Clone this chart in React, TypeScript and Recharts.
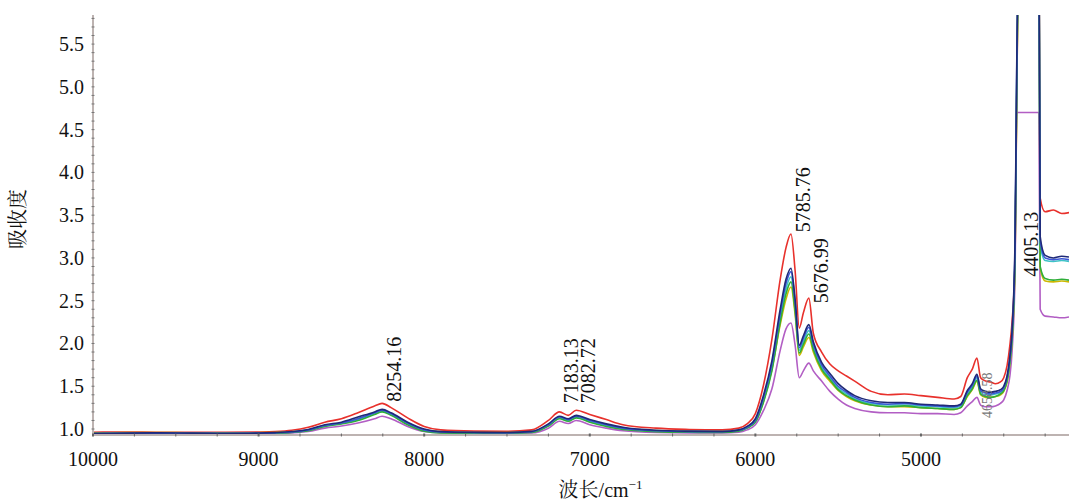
import React from 'react';
import { LineChart, Line, XAxis, YAxis, ReferenceDot } from 'recharts';

// wavenumber grid (cm-1), descending
const wavenumbers = [
  10000, 9800, 9600, 9400, 9200, 9000, 8900, 8800, 8700, 8600,
  8500, 8400, 8300, 8254, 8200, 8100, 8000, 7900, 7700, 7500,
  7350, 7250, 7183, 7130, 7082, 7000, 6900, 6800, 6600, 6400,
  6200, 6100, 6050, 6000, 5950, 5900, 5850, 5815, 5785, 5760,
  5735, 5710, 5677, 5650, 5600, 5550, 5500, 5450, 5400, 5300,
  5200, 5100, 5000, 4900, 4800, 4760, 4720, 4690, 4662, 4640,
  4610, 4580, 4550, 4520, 4500, 4480, 4463, 4450, 4432, 4422,
  4405, 4350, 4300, 4288, 4280, 4250, 4200, 4150, 4106,
];

const seriesRed = [
  0.962, 0.965, 0.962, 0.963, 0.962, 0.965, 0.97, 0.985, 1.02, 1.08,
  1.12, 1.19, 1.27, 1.3, 1.25, 1.13, 1.03, 0.99, 0.975, 0.972,
  0.99, 1.1, 1.2, 1.16, 1.22, 1.17, 1.11, 1.05, 1.01, 0.995,
  0.99, 1.01, 1.06, 1.18, 1.52, 2.05, 2.75, 3.12, 3.28, 2.85,
  2.18, 2.36, 2.53, 2.12, 1.9, 1.76, 1.68, 1.62, 1.56, 1.44,
  1.4, 1.41, 1.39, 1.37, 1.35, 1.38, 1.6, 1.7, 1.83, 1.6,
  1.56, 1.55, 1.53, 1.55, 1.6, 1.74, 1.98, 2.25, 2.95, 4.8,
  7, 7, 7, 7, 3.7, 3.54, 3.56, 3.52, 3.53,
];

const seriesNavy = [
  0.95, 0.952, 0.955, 0.952, 0.95, 0.952, 0.958, 0.97, 0.995, 1.05,
  1.08, 1.14, 1.2, 1.23, 1.19, 1.08, 1.0, 0.97, 0.962, 0.96,
  0.972, 1.06, 1.15, 1.12, 1.16, 1.11, 1.06, 1.02, 0.985, 0.975,
  0.972, 0.99, 1.03, 1.12, 1.4, 1.8, 2.4, 2.75, 2.88, 2.52,
  1.98, 2.09, 2.22, 2.02, 1.78, 1.65, 1.53, 1.45, 1.39, 1.33,
  1.31, 1.31, 1.29, 1.28, 1.27, 1.29, 1.45, 1.53, 1.64, 1.47,
  1.44, 1.43, 1.44, 1.46, 1.5, 1.62, 1.85, 2.15, 3.2, 5.2,
  7, 7, 7, 7, 3.25, 3.03, 3.0, 3.02, 3.01,
];

const seriesBlue = [
  0.945, 0.948, 0.95, 0.95, 0.948, 0.95, 0.955, 0.965, 0.99, 1.04,
  1.07, 1.12, 1.19, 1.22, 1.18, 1.07, 0.99, 0.965, 0.958, 0.955,
  0.968, 1.05, 1.14, 1.11, 1.15, 1.1, 1.05, 1.01, 0.98, 0.97,
  0.968, 0.985, 1.02, 1.1, 1.37, 1.76, 2.35, 2.7, 2.84, 2.48,
  1.95, 2.06, 2.19, 1.99, 1.75, 1.62, 1.5, 1.43, 1.37, 1.31,
  1.29, 1.3, 1.28, 1.27, 1.26, 1.28, 1.43, 1.51, 1.62, 1.45,
  1.42, 1.41, 1.42, 1.44, 1.48, 1.6, 1.82, 2.1, 3.1, 5.1,
  7, 7, 7, 7, 3.2, 3.0, 2.98, 2.99, 2.98,
];

const seriesCyan = [
  0.948, 0.95, 0.95, 0.948, 0.95, 0.95, 0.953, 0.963, 0.985, 1.035,
  1.065, 1.11, 1.18, 1.21, 1.17, 1.06, 0.985, 0.962, 0.955, 0.955,
  0.965, 1.04, 1.13, 1.1, 1.14, 1.09, 1.04, 1.005, 0.978, 0.968,
  0.965, 0.98, 1.015, 1.09, 1.34, 1.72, 2.3, 2.64, 2.78, 2.43,
  1.92, 2.02, 2.15, 1.96, 1.72, 1.6, 1.48, 1.41, 1.35, 1.3,
  1.28, 1.28, 1.27, 1.26, 1.25, 1.27, 1.41, 1.49, 1.6, 1.43,
  1.4, 1.4, 1.41, 1.43, 1.47, 1.58, 1.8, 2.08, 3.05, 5.0,
  7, 7, 7, 7, 3.15, 2.97, 2.96, 2.97, 2.96,
];

const seriesGreen = [
  0.94, 0.945, 0.945, 0.945, 0.944, 0.945, 0.95, 0.96, 0.98, 1.03,
  1.06, 1.1, 1.17, 1.2, 1.16, 1.05, 0.975, 0.955, 0.95, 0.95,
  0.96, 1.035, 1.12, 1.09, 1.13, 1.08, 1.03, 0.995, 0.97, 0.962,
  0.96, 0.975, 1.01, 1.08, 1.32, 1.68, 2.25, 2.58, 2.72, 2.38,
  1.89, 1.99, 2.11, 1.93, 1.7, 1.58, 1.46, 1.39, 1.34, 1.28,
  1.26, 1.27, 1.25, 1.24, 1.23, 1.25, 1.39, 1.47, 1.57, 1.41,
  1.38, 1.37, 1.38, 1.41, 1.45, 1.56, 1.78, 2.05, 3.0, 4.9,
  7, 7, 7, 7, 2.9, 2.76, 2.74, 2.75, 2.74,
];

const seriesOlive = [
  0.955, 0.958, 0.96, 0.955, 0.955, 0.957, 0.96, 0.968, 0.988, 1.04,
  1.07, 1.12, 1.18, 1.21, 1.17, 1.06, 0.99, 0.968, 0.96, 0.96,
  0.968, 1.045, 1.13, 1.1, 1.14, 1.09, 1.045, 1.01, 0.982, 0.972,
  0.97, 0.985, 1.02, 1.09, 1.33, 1.7, 2.22, 2.52, 2.66, 2.34,
  1.86, 1.96, 2.07, 1.9, 1.68, 1.56, 1.45, 1.38, 1.33, 1.28,
  1.26, 1.26, 1.25, 1.24, 1.23, 1.25, 1.38, 1.46, 1.56, 1.4,
  1.37, 1.37, 1.38, 1.4, 1.44, 1.55, 1.76, 2.02, 2.95, 4.8,
  7, 7, 7, 7, 2.88, 2.73, 2.72, 2.73, 2.72,
];

const seriesPurple = [
  0.945, 0.945, 0.944, 0.945, 0.944, 0.945, 0.948, 0.955, 0.97, 1.01,
  1.035, 1.07, 1.12, 1.15, 1.12, 1.03, 0.97, 0.955, 0.95, 0.95,
  0.955, 1.01, 1.09, 1.065, 1.1, 1.05, 1.01, 0.98, 0.96, 0.955,
  0.955, 0.962, 0.99, 1.05, 1.22, 1.47, 1.92, 2.17, 2.24, 1.98,
  1.6, 1.68, 1.77, 1.68, 1.56, 1.44, 1.35, 1.28, 1.24, 1.2,
  1.19, 1.19, 1.18, 1.18, 1.17, 1.19, 1.27, 1.32, 1.37, 1.28,
  1.26, 1.26, 1.27, 1.3, 1.34, 1.45, 1.62, 1.9, 2.8, 4.7,
  4.7, 4.7, 4.7, 4.7, 2.4, 2.32, 2.31, 2.3, 2.31,
];

const xTicks = [
  10000, 9750, 9500, 9250, 9000, 8750, 8500, 8250, 8000, 7750, 7500, 7250,
  7000, 6750, 6500, 6250, 6000, 5750, 5500, 5250, 5000, 4750, 4500, 4250,
];
const yTicks = [
  1.0, 1.1, 1.2, 1.3, 1.4, 1.5, 1.6, 1.7, 1.8, 1.9,
  2.0, 2.1, 2.2, 2.3, 2.4, 2.5, 2.6, 2.7, 2.8, 2.9,
  3.0, 3.1, 3.2, 3.3, 3.4, 3.5, 3.6, 3.7, 3.8, 3.9,
  4.0, 4.1, 4.2, 4.3, 4.4, 4.5, 4.6, 4.7, 4.8, 4.9,
  5.0, 5.1, 5.2, 5.3, 5.4, 5.5, 5.6, 5.7, 5.8,
];

const peakTexts = ['8254.16', '7183.13', '7082.72', '5785.76', '5676.99', '4405.13'];
const peakWn = [8254.16, 7183.13, 7082.72, 5785.76, 5676.99, 4405.13];
const peakAt = [1.32, 1.3, 1.3, 3.3, 2.47, 2.78];
const minorText = '4658.58';
const minorWn = 4658.58;
const minorAt = 1.13;

const series = [
  { key: 'purple', values: seriesPurple, color: '#b25ec4' },
  { key: 'red', values: seriesRed, color: '#e8312c' },
  { key: 'olive', values: seriesOlive, color: '#cdb800' },
  { key: 'cyan', values: seriesCyan, color: '#3ec3c6' },
  { key: 'green', values: seriesGreen, color: '#2fae3a' },
  { key: 'blue', values: seriesBlue, color: '#3b55d6' },
  { key: 'navy', values: seriesNavy, color: '#1f2a78' },
];

const data = wavenumbers.map((wn, i) => {
  const row: Record<string, number> = { wn };
  series.forEach((s) => {
    row[s.key] = s.values[i];
  });
  return row;
});

const SERIF = "'Liberation Serif', 'Times New Roman', serif";
const CJK = "'Liberation Serif', 'Noto Serif CJK SC', 'Noto Sans CJK SC', serif";
const AXIS_COLOR = '#bdb3b1';

const XTick = (props: any) => {
  const { x, y, payload } = props;
  const v = payload.value as number;
  const major = v % 1000 === 0;
  return (
    <g>
      <line x1={x} x2={x} y1={y - 1.5} y2={y + 1.5} stroke="#666" strokeWidth={major ? 2 : 1} />
      {major && (
        <text x={x} y={y + 31} textAnchor="middle" fontSize={20} fontFamily={SERIF} fill="#111">
          {v}
        </text>
      )}
    </g>
  );
};

const YTick = (props: any) => {
  const { x, y, payload } = props;
  const v = payload.value as number;
  const major = Math.abs(v * 2 - Math.round(v * 2)) < 1e-6;
  return (
    <g>
      <line x1={x - 1.5} x2={x + 1.5} y1={y} y2={y} stroke="#777" strokeWidth={1} />
      {major && (
        <text x={x - 9} y={y} dy="0.35em" textAnchor="end" fontSize={20} fontFamily={SERIF} fill="#111">
          {v.toFixed(1)}
        </text>
      )}
    </g>
  );
};

const XTitle = (props: any) => {
  const vb = props.viewBox;
  return (
    <text x={vb.x + vb.width * 0.52} y={vb.y + vb.height - 6} textAnchor="middle" fontSize={20} fontFamily={CJK} fill="#111">
      <tspan>波长/cm</tspan>
      <tspan dy={-8} fontSize={13}>−1</tspan>
    </text>
  );
};

const YTitle = (props: any) => {
  const vb = props.viewBox;
  const cx = vb.x + 18;
  const cy = vb.y + vb.height / 2 - 6;
  return (
    <text x={cx} y={cy} dy="0.35em" textAnchor="middle" fontSize={20} fontFamily={CJK} fill="#111" transform={`rotate(-90, ${cx}, ${cy})`}>
      吸收度
    </text>
  );
};

const makePeakLabel = (text: string, size: number, color: string, dx: number) => (props: any) => {
  const vb = props.viewBox;
  const px = vb.x + (vb.width || 0) / 2 + dx;
  const py = vb.y + (vb.height || 0) / 2;
  return (
    <text x={px} y={py} textAnchor="start" fontSize={size} fontFamily={SERIF} fill={color} transform={`rotate(-90, ${px}, ${py})`}>
      {text}
    </text>
  );
};

export default function App() {
  return (
    <div style={{ position: 'absolute', left: 0, top: 0, width: 1069, height: 503, background: '#fff' }}>
      <LineChart width={1069} height={503} data={data} margin={{ top: 15, right: 0, bottom: 0, left: 0 }}>
        <XAxis
          type="number"
          dataKey="wn"
          domain={[4106, 10000]}
          reversed
          allowDataOverflow
          ticks={xTicks}
          interval={0}
          tick={XTick}
          tickSize={0}
          tickMargin={0}
          tickLine={false}
          axisLine={{ stroke: AXIS_COLOR, strokeWidth: 2 }}
          height={68}
          label={XTitle}
        />
        <YAxis
          type="number"
          domain={[0.93, 5.84]}
          allowDataOverflow
          ticks={yTicks}
          interval={0}
          tick={YTick}
          tickSize={0}
          tickMargin={0}
          tickLine={false}
          axisLine={{ stroke: AXIS_COLOR, strokeWidth: 2 }}
          width={93}
          label={YTitle}
        />
        <ReferenceDot
          x={minorWn}
          y={minorAt}
          r={0}
          fill="none"
          stroke="none"
          isFront={false}
          label={makePeakLabel(minorText, 14, '#777', 15)}
        />
        {series.map((s) => (
          <Line
            key={s.key}
            type="monotone"
            dataKey={s.key}
            stroke={s.color}
            strokeWidth={1.6}
            dot={false}
            activeDot={false}
            isAnimationActive={false}
          />
        ))}
        {peakTexts.map((t, i) => (
          <ReferenceDot
            key={t}
            x={peakWn[i]}
            y={peakAt[i]}
            r={0}
            fill="none"
            stroke="none"
            isFront
            label={makePeakLabel(t, 20, '#111', 19)}
          />
        ))}
      </LineChart>
    </div>
  );
}
